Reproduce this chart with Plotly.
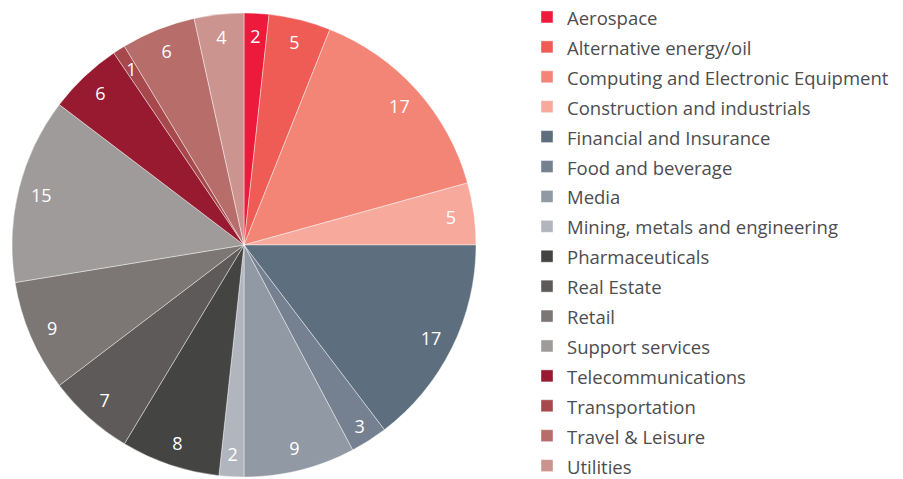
import plotly.graph_objects as go

categories = [
    "Aerospace", "Alternative energy/oil", "Computing and Electronic Equipment",
    "Construction and industrials", "Financial and Insurance", "Food and beverage",
    "Media", "Mining, metals and engineering", "Pharmaceuticals", "Real Estate",
    "Retail", "Support services", "Telecommunications", "Transportation",
    "Travel & Leisure", "Utilities",
]
values = [2, 5, 17, 5, 17, 3, 9, 2, 8, 7, 9, 15, 6, 1, 6, 4]
colors = [
    "#ED1A3B", "#EF5B55", "#F38577", "#F7AA9C", "#5D6E7E", "#758190",
    "#9199A4", "#B1B5BE", "#444442", "#5E5A59", "#7C7775", "#9F9B9A",
    "#981A31", "#A6484C", "#B76E6A", "#CC948E",
]

legend_labels = ['<span style="font-size:18.5px">%s</span>' % c for c in categories]

W, H = 903, 479
cx, cy, R = 244, 245, 232          # pie centre / radius in pixels
Rt = 214.6                          # outer radius of the thin label ring (small slices)


def dom(r):
    return (dict(x=[(cx - r) / W, (cx + r) / W],
                 y=[(H - cy - r) / H, (H - cy + r) / H]))


big_text = [str(v) if v >= 3 else "" for v in values]
small_text = [str(v) if v < 3 else "" for v in values]

fig = go.Figure()
fig.add_trace(go.Pie(
    labels=legend_labels, values=values, sort=False, direction="clockwise", rotation=0,
    marker=dict(colors=colors, line=dict(color="rgba(255,255,255,0.7)", width=0.6)),
    textinfo="none", domain=dom(R), showlegend=True,
))
for txt, hole, r in [(big_text, 0.8, R), (small_text, 0.95, Rt)]:
    fig.add_trace(go.Pie(
        labels=legend_labels, values=values, sort=False, direction="clockwise", rotation=0,
        hole=hole, text=txt,
        marker=dict(colors=["rgba(0,0,0,0)"] * len(values), line=dict(width=0)),
        textinfo="text", textposition="inside", insidetextorientation="horizontal",
        insidetextfont=dict(family="Open Sans", size=18, color="white"),
        domain=dom(r), showlegend=False, hoverinfo="skip",
    ))

fig.update_layout(
    width=W, height=H,
    margin=dict(l=0, r=0, t=0, b=0, autoexpand=False),
    paper_bgcolor="white", plot_bgcolor="white",
    uniformtext=dict(minsize=18, mode="show"),
    legend=dict(
        x=527 / W, xanchor="left", y=1 + 3 / H, yanchor="top",
        font=dict(family="Open Sans", size=20.7, color="#4D4D4F"),
        traceorder="normal", bgcolor="rgba(0,0,0,0)",
    ),
)
try:
    fig.update_layout(legend_maxheight=560)
except Exception:
    pass
fig.write_html("out.html")
